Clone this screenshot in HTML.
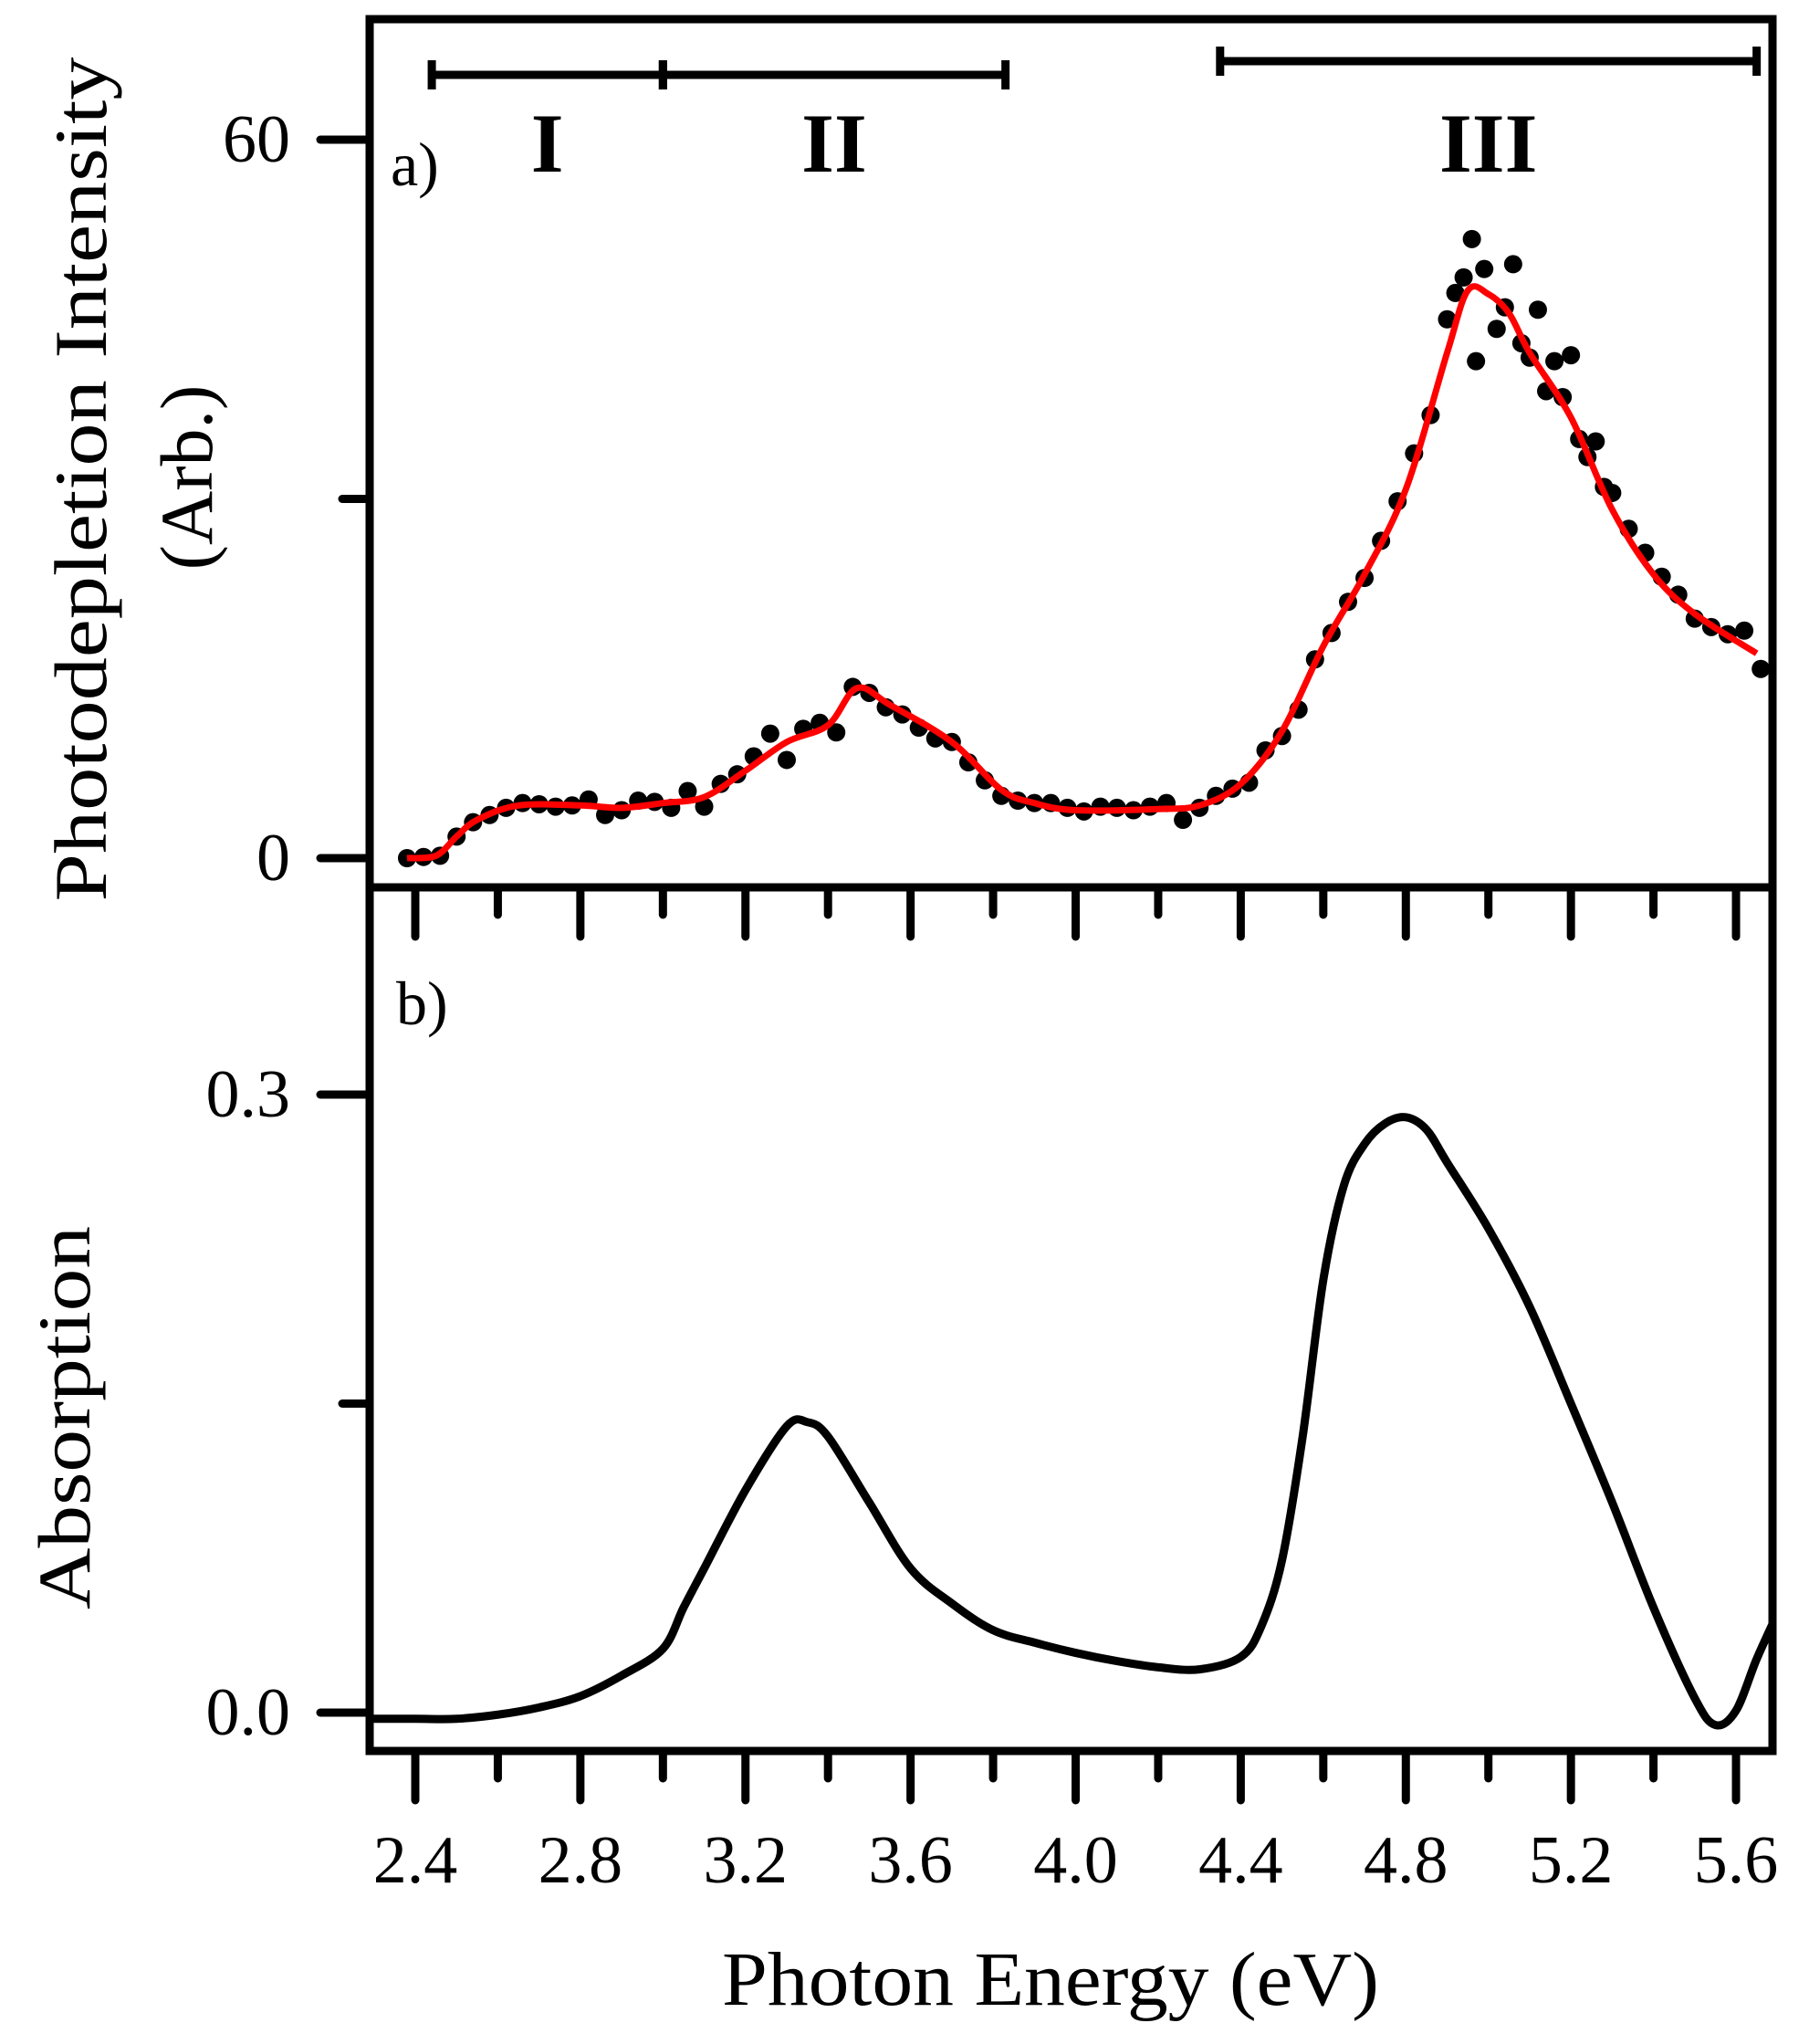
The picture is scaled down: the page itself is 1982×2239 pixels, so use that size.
<!DOCTYPE html>
<html><head><meta charset="utf-8"><style>
html,body{margin:0;padding:0;background:#fff;}
svg{display:block;}
text{font-family:"Liberation Serif",serif;fill:#000;}
</style></head><body>
<svg id="chart" width="1982" height="2239" viewBox="0 0 1982 2239" xmlns="http://www.w3.org/2000/svg">
<defs>
<clipPath id="clipA"><rect x="405" y="21" width="1537" height="951"/></clipPath>
<clipPath id="clipB"><rect x="405" y="972" width="1537" height="946"/></clipPath>
</defs>
<g id="grp"></g>
</svg>
<script>
// ---------- data ----------
const xTickLabels = ["2.4","2.8","3.2","3.6","4.0","4.4","4.8","5.2","5.6"];
const xTickValues = [2.4,2.8,3.2,3.6,4.0,4.4,4.8,5.2,5.6];
const xMinorValues = [2.6,3.0,3.4,3.8,4.2,4.6,5.0,5.4];
const topTickLabels = ["0","60"];
const topTickValues = [0,60];
const topMinorValues = [30];
const botTickLabels = ["0.0","0.3"];
const botTickValues = [0,0.3];
const botMinorValues = [0.15];

const dotEnergy = [2.38,2.42,2.46,2.50,2.54,2.58,2.62,2.66,2.70,2.74,2.78,2.82,2.86,2.90,2.94,2.98,3.02,3.06,3.10,3.14,3.18,3.22,3.26,3.30,3.34,3.38,3.42,3.46,3.50,3.54,3.58,3.62,3.66,3.70,3.74,3.78,3.82,3.86,3.90,3.94,3.98,4.02,4.06,4.10,4.14,4.18,4.22,4.26,4.30,4.34,4.38,4.42,4.46,4.50,4.54,4.58,4.62,4.66,4.70,4.74,4.78,4.82,4.86,4.90,4.92,4.94,4.96,4.97,4.99,5.02,5.04,5.06,5.08,5.10,5.12,5.14,5.16,5.18,5.20,5.22,5.24,5.26,5.28,5.30,5.34,5.38,5.42,5.46,5.50,5.54,5.58,5.62,5.66];
const dotIntensity = [0,0.1,0.2,1.8,3.0,3.6,4.2,4.6,4.5,4.3,4.4,4.9,3.6,4.0,4.8,4.7,4.2,5.6,4.3,6.2,7.0,8.5,10.4,8.2,10.8,11.3,10.5,14.3,13.8,12.6,12.0,10.9,10.0,9.7,8.0,6.5,5.2,4.8,4.6,4.6,4.2,3.9,4.3,4.2,4.0,4.3,4.6,3.2,4.2,5.2,5.8,6.3,9.0,10.2,12.4,16.6,18.8,21.4,23.4,26.5,29.8,33.8,37.0,45.0,47.2,48.5,51.7,41.5,49.2,44.2,46.0,49.6,43.0,41.8,45.8,39.0,41.5,38.5,42.0,35.0,33.5,34.8,31.0,30.5,27.5,25.5,23.5,22.0,20.0,19.3,18.7,19.0,15.8];

const fitEnergy = [2.38,2.45,2.50,2.55,2.65,2.80,2.90,3.00,3.10,3.20,3.30,3.40,3.47,3.55,3.70,3.82,3.90,4.00,4.20,4.30,4.40,4.50,4.60,4.70,4.80,4.90,4.95,5.00,5.05,5.10,5.20,5.30,5.40,5.50,5.65];
const fitIntensity = [0,0.2,1.8,3.2,4.4,4.4,4.2,4.6,5.1,7.3,9.7,11.1,14.2,12.8,9.7,5.7,4.6,4.0,4.1,4.4,6.2,10.6,17.7,23.7,30.8,42.2,47.4,47.1,45.5,42.2,36.8,29.1,23.7,20.4,17.1];

const absEnergy = [2.28,2.40,2.50,2.60,2.70,2.80,2.90,3.00,3.05,3.10,3.20,3.30,3.35,3.40,3.50,3.60,3.70,3.80,3.90,4.00,4.10,4.20,4.30,4.40,4.45,4.50,4.55,4.60,4.65,4.70,4.75,4.80,4.85,4.90,5.00,5.10,5.20,5.30,5.40,5.50,5.55,5.60,5.65,5.70];
const absValue = [-0.003,-0.003,-0.003,-0.001,0.0025,0.008,0.018,0.031,0.051,0.070,0.108,0.139,0.141,0.134,0.102,0.070,0.053,0.040,0.034,0.029,0.025,0.022,0.021,0.027,0.042,0.074,0.134,0.210,0.256,0.276,0.286,0.289,0.283,0.267,0.235,0.197,0.150,0.102,0.051,0.007,-0.006,0.001,0.026,0.048];

const ranges = [["I",2.44,3.0,82],["II",3.0,3.83,82],["III",4.35,5.65,67]];

// ---------- axes ----------
const X = v => 455 + (v-2.4)*452.2;
const YA = v => 940 - v*(940-153)/60;
const YB = v => 1876 - v*(1876-1199)/0.3;
const NS = "http://www.w3.org/2000/svg";
const g = document.getElementById('grp');
function mk(tag, attrs, parent){ const e=document.createElementNS(NS,tag); for(const k in attrs) e.setAttribute(k,attrs[k]); (parent||g).appendChild(e); return e; }
function smooth(pts){
  let d='M'+pts[0][0]+','+pts[0][1];
  for(let i=0;i<pts.length-1;i++){
    const p0=pts[Math.max(0,i-1)],p1=pts[i],p2=pts[i+1],p3=pts[Math.min(pts.length-1,i+2)];
    const c1=[p1[0]+(p2[0]-p0[0])/6,p1[1]+(p2[1]-p0[1])/6];
    const c2=[p2[0]-(p3[0]-p1[0])/6,p2[1]-(p3[1]-p1[1])/6];
    d+=' C'+c1[0]+','+c1[1]+' '+c2[0]+','+c2[1]+' '+p2[0]+','+p2[1];
  }
  return d;
}
const SW=9;
let e;
e = mk('rect',{x:405,y:21,width:1537,height:951,fill:'none',stroke:'#000','stroke-width':SW});


e = mk('rect',{x:405,y:972,width:1537,height:946,fill:'none',stroke:'#000','stroke-width':SW});



[972,1918].forEach(y0=>{
  xTickValues.forEach(v=>{ e=mk('line',{x1:X(v),x2:X(v),y1:y0,y2:y0+54,stroke:'#000','stroke-width':SW,'stroke-linecap':'round'});
    
     });
  xMinorValues.forEach(v=>{ e=mk('line',{x1:X(v),x2:X(v),y1:y0,y2:y0+30,stroke:'#000','stroke-width':SW,'stroke-linecap':'round'});
    
     });
});
xTickValues.forEach((v,i)=>{ e=mk('text',{x:X(v),y:2062,'font-size':74,'text-anchor':'middle'}); e.textContent=xTickLabels[i];
  
   });

topTickValues.forEach((v,i)=>{ e=mk('line',{x1:351,x2:405,y1:YA(v),y2:YA(v),stroke:'#000','stroke-width':SW,'stroke-linecap':'round'});
  
  
  e=mk('text',{x:318,y:YA(v)+24,'font-size':74,'text-anchor':'end'}); e.textContent=topTickLabels[i];
  
   });
topMinorValues.forEach(v=>{ e=mk('line',{x1:375,x2:405,y1:YA(v),y2:YA(v),stroke:'#000','stroke-width':SW,'stroke-linecap':'round'});
  
   });
botTickValues.forEach((v,i)=>{ e=mk('line',{x1:351,x2:405,y1:YB(v),y2:YB(v),stroke:'#000','stroke-width':SW,'stroke-linecap':'round'});
  
  
  e=mk('text',{x:318,y:YB(v)+24,'font-size':74,'text-anchor':'end'}); e.textContent=botTickLabels[i];
  
   });
botMinorValues.forEach(v=>{ e=mk('line',{x1:375,x2:405,y1:YB(v),y2:YB(v),stroke:'#000','stroke-width':SW,'stroke-linecap':'round'});
  
   });

e=mk('text',{x:0,y:0,'font-size':82,'text-anchor':'middle',transform:'translate(116,525) rotate(-90)',textLength:925,lengthAdjust:'spacingAndGlyphs'}); e.textContent='Photodepletion Intensity';


e=mk('text',{x:0,y:0,'font-size':82,'text-anchor':'middle',transform:'translate(232,523) rotate(-90)'}); e.textContent='(Arb.)';


e=mk('text',{x:0,y:0,'font-size':82,'text-anchor':'middle',transform:'translate(98,1553) rotate(-90)',textLength:420,lengthAdjust:'spacingAndGlyphs'}); e.textContent='Absorption';


e=mk('text',{x:1151,y:2196,'font-size':84,'text-anchor':'middle',textLength:720,lengthAdjust:'spacingAndGlyphs'}); e.textContent='Photon Energy (eV)';


e=mk('text',{x:428,y:203,'font-size':68}); e.textContent='a)';


e=mk('text',{x:434,y:1122,'font-size':68}); e.textContent='b)';



ranges.forEach(r=>{
  const x1=X(r[1]), x2=X(r[2]), y=r[3];
  e=mk('line',{x1:x1,x2:x2,y1:y,y2:y,stroke:'#000','stroke-width':SW});
  
  
  [x1,x2].forEach(xx=>{ const c=mk('line',{x1:xx,x2:xx,y1:y-16,y2:y+16,stroke:'#000','stroke-width':SW});
    
     });
  e=mk('text',{x:(x1+x2)/2,y:188,'font-size':92,'font-weight':'bold','text-anchor':'middle'}); e.textContent=r[0];
  
  
});

const gA = mk('g',{'clip-path':'url(#clipA)'});


dotEnergy.forEach((v,i)=>{ e=mk('circle',{cx:X(v),cy:YA(dotIntensity[i]),r:10,fill:'#000'},gA);
  
   });
e=mk('path',{d:smooth(fitEnergy.map((v,i)=>[X(v),YA(fitIntensity[i])])),fill:'none',stroke:'#ff0000','stroke-width':7,'stroke-linejoin':'round'},gA);



const gB = mk('g',{'clip-path':'url(#clipB)'});


e=mk('path',{d:smooth(absEnergy.map((v,i)=>[X(v),YB(absValue[i])])),fill:'none',stroke:'#000','stroke-width':9,'stroke-linejoin':'round'},gB);


</script>
</body></html>
